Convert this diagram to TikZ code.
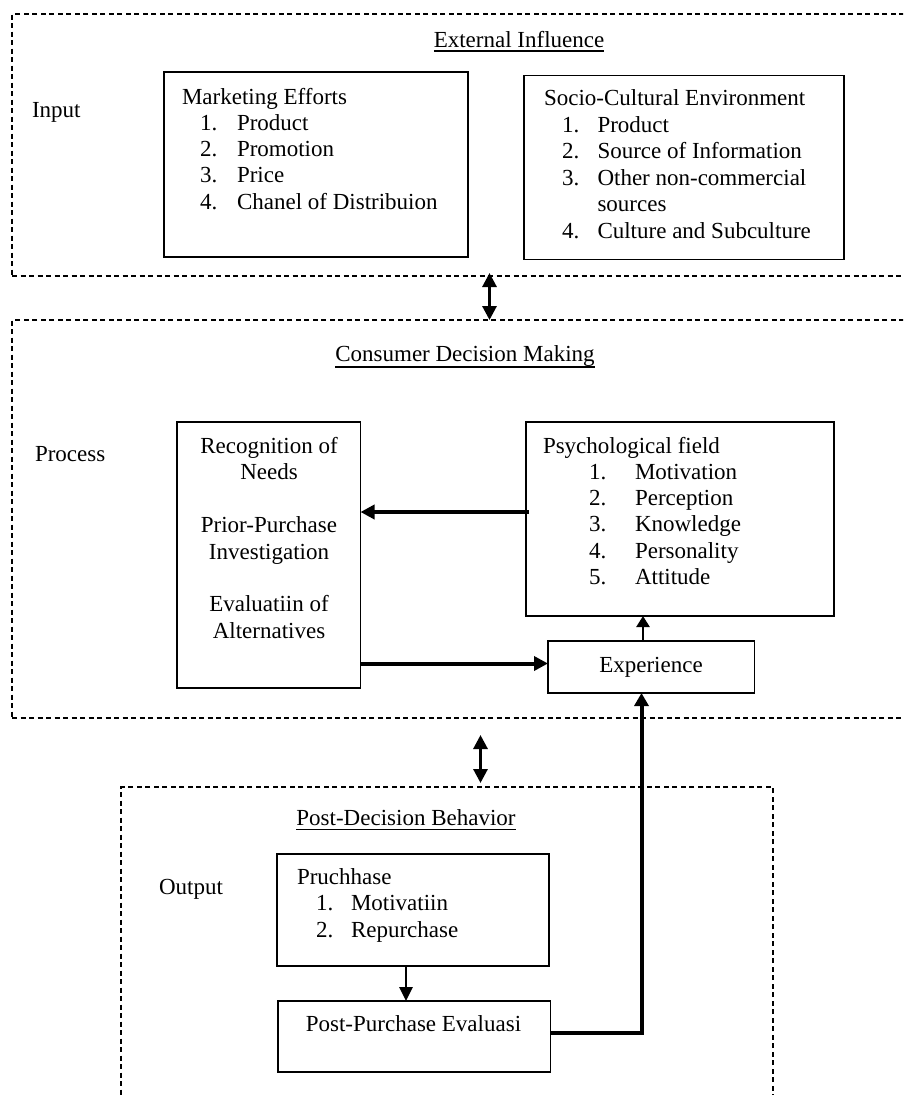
\documentclass[tikz,border=0pt]{standalone}
\usepackage{fontspec}
\setmainfont{Liberation Serif}
\usetikzlibrary{arrows.meta}
\begin{document}
\begin{tikzpicture}[x=1pt,y=-1pt,
  every node/.style={font=\fontsize{23}{26.5}\selectfont, inner sep=0pt, outer sep=0pt},
  box/.style={draw, line width=1.6pt, anchor=north west},
  zone/.style={draw, dash pattern=on 5pt off 3.5pt, line width=1.1pt, anchor=north west},
  txt/.style={anchor=base west},
  ctxt/.style={anchor=base},
  ulin/.style={line width=1.1pt},
  harrow/.style={line width=4pt, -{Triangle[length=14pt,width=14pt]}},
  varrow/.style={line width=2.6pt, -{Triangle[length=14pt,width=13pt]}},
  sarrow/.style={line width=2.5pt, -{Triangle[length=11pt,width=13pt]}},
  dbl/.style={line width=3pt, {Triangle[length=14pt,width=14pt]}-{Triangle[length=14pt,width=14pt]}},
  back/.style={line width=4pt, -{Triangle[length=13pt,width=14pt]}}
]
\useasboundingbox (0,0) rectangle (903,1095);
\clip (0,0) rectangle (903,1095);

% zones
\node[zone, minimum width=910pt, minimum height=262pt] (ext) at (12,14) {};
\node[zone, minimum width=910pt, minimum height=398pt] (cdm) at (12,320) {};
\node[zone, minimum width=652pt, minimum height=340pt] (pdb) at (121,787) {};

% boxes
\node[box, minimum width=304pt, minimum height=185pt] (mkt) at (164,72) {};
\node[box, minimum width=320pt, minimum height=184pt] (soc) at (524,75.5) {};
\node[box, minimum width=183.5pt, minimum height=266pt] (rec) at (177,422) {};
\node[box, minimum width=308pt, minimum height=194pt] (psy) at (526,422) {};
\node[box, minimum width=206.5pt, minimum height=52pt] (exp) at (548,641) {};
\node[box, minimum width=272pt, minimum height=112pt] (pur) at (277,854) {};
\node[box, minimum width=272.5pt, minimum height=71pt] (ppe) at (278,1001) {};

% titles
\node[ctxt] (text) at (519,47) {External Influence};
\draw[ulin] ([yshift=-4pt]text.base west) -- ([yshift=-4pt]text.base east);
\node[ctxt] (tcdm) at (465,361) {Consumer Decision Making};
\draw[ulin] ([yshift=-6pt]tcdm.base west) -- ([yshift=-6pt]tcdm.base east);
\node[ctxt] (tpdb) at (406,825) {Post-Decision Behavior};
\draw[ulin] ([yshift=-4.5pt]tpdb.base west) -- ([yshift=-4.5pt]tpdb.base east);

% side labels
\node[txt] (tin) at (32,117) {Input};
\node[txt] (tpr) at (35,461) {Process};
\node[txt] (tout) at (159,894) {Output};

% marketing efforts
\node[txt] (mkhead) at (182,104) {Marketing Efforts};
\foreach \t [count=\i] in {Product,Promotion,Price,Chanel of Distribuion} {
  \node[txt] (mkn\i) at (200,{104+26.3*\i}) {\i.};
  \node[txt] (mkt\i) at (237,{104+26.3*\i}) {\t};
}

% socio-cultural
\node[txt] (sohead) at (544,105) {Socio-Cultural Environment};
\node[txt] (son1) at (562,132) {1.};
\node[txt] (sot1) at (597.5,132) {Product};
\node[txt] (son2) at (562,158.5) {2.};
\node[txt] (sot2) at (597.5,158.5) {Source of Information};
\node[txt] (son3) at (562,185) {3.};
\node[txt] (sot3) at (597.5,185) {Other non-commercial};
\node[txt] (sot3b) at (597.5,211.5) {sources};
\node[txt] (son4) at (562,238) {4.};
\node[txt] (sot4) at (597.5,238) {Culture and Subculture};

% recognition
\node[ctxt] (r1) at (269,453) {Recognition of};
\node[ctxt] (r2) at (269,479) {Needs};
\node[ctxt] (r3) at (269,532) {Prior-Purchase};
\node[ctxt] (r4) at (269,559) {Investigation};
\node[ctxt] (r5) at (269,611) {Evaluatiin of};
\node[ctxt] (r6) at (269,638) {Alternatives};

% psychological field
\node[txt] (pshead) at (543,453) {Psychological field};
\foreach \t [count=\i] in {Motivation,Perception,Knowledge,Personality,Attitude} {
  \node[txt] (psn\i) at (589,{452.6+26.4*\i}) {\i.};
  \node[txt] (pst\i) at (635,{452.6+26.4*\i}) {\t};
}

% experience
\node[ctxt] (texp) at (651,672) {Experience};

% purchase
\node[txt] (puhead) at (297,884) {Pruchhase};
\node[txt] (pun1) at (316,910) {1.};
\node[txt] (put1) at (351,910) {Motivatiin};
\node[txt] (pun2) at (316,937) {2.};
\node[txt] (put2) at (351,937) {Repurchase};

% post-purchase
\node[ctxt] (tppe) at (413.5,1031) {Post-Purchase Evaluasi};

% helper coordinates
\coordinate (xa) at (489.5,0);
\coordinate (xb) at (480.5,0);
\coordinate (yc) at (0,512);
\coordinate (yd) at (0,663.5);
\coordinate (xe) at (643,0);
\coordinate (xf) at (406,0);
\coordinate (yg) at (0,1033);
\coordinate (xh) at (641.5,0);

% connectors
\draw[dbl, shorten <=-3pt] (ext.south -| xa) -- (cdm.north -| xa);
\draw[dbl, shorten <=17pt, shorten >=4pt] (cdm.south -| xb) -- (pdb.north -| xb);
\draw[harrow, shorten <=-3pt] (psy.west |- yc) -- (rec.east |- yc);
\draw[harrow] (rec.east |- yd) -- (exp.west |- yd);
\draw[sarrow] (exp.north -| xe) -- (psy.south -| xe);
\draw[varrow] (pur.south -| xf) -- (ppe.north -| xf);
\draw[back] (ppe.east |- yg) -| (exp.south -| xh);
\end{tikzpicture}
\end{document}
